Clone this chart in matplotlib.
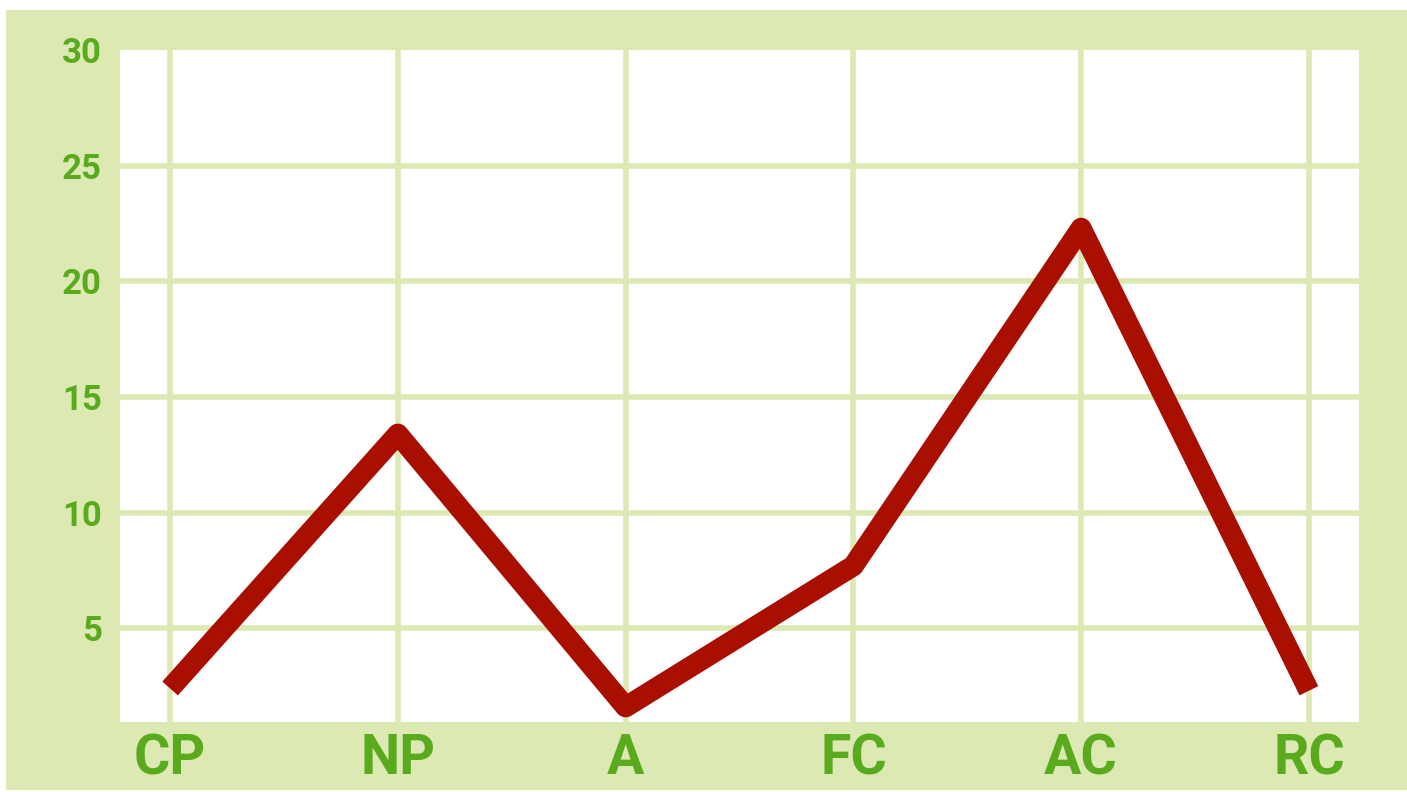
import matplotlib
matplotlib.use("Agg")
import matplotlib.pyplot as plt
from matplotlib.patches import Rectangle

categories = ["CP", "NP", "A", "FC", "AC", "RC"]
values = [2.4, 13.4, 1.6, 7.7, 22.3, 2.3]
y_ticks = [5, 10, 15, 20, 25, 30]

bg_green = "#dce9b3"
grid_green = "#dce9b3"
text_green = "#5aaa1e"
line_red = "#a80f00"

W, H = 1407, 792
fig = plt.figure(figsize=(W / 100, H / 100), dpi=100)
fig.patch.set_facecolor("white")
fig.patches.append(Rectangle((6 / W, 2 / H), 1 - 6 / W, 1 - 12 / H,
                             transform=fig.transFigure, facecolor=bg_green,
                             edgecolor="none", zorder=-10))

ax = fig.add_axes([120 / W, 1 - 722 / H, (1359 - 120) / W, (722 - 50) / H])
ax.set_facecolor("white")
x = list(range(len(categories)))
ax.plot(x, values, color=line_red, linewidth=15, solid_capstyle="butt",
        solid_joinstyle="round", zorder=3)

ax.set_xlim(-0.22, len(categories) - 1 + 0.22)
ax.set_ylim(0.95, 30)
ax.set_xticks(x)
ax.set_xticklabels(categories)
ax.set_yticks(y_ticks)
ax.set_yticklabels([str(v) for v in y_ticks])

ax.grid(True, color=grid_green, linewidth=4, zorder=1)
ax.set_axisbelow(True)
gl = ax.yaxis.get_gridlines()
gl[-1].set_visible(False)

for s in ax.spines.values():
    s.set_visible(False)
ax.tick_params(length=0)
ax.tick_params(axis="y", pad=13, labelsize=25, labelcolor=text_green)
ax.tick_params(axis="x", pad=8, labelsize=40, labelcolor=text_green)
for t in ax.get_yticklabels():
    t.set_fontfamily("Roboto")
    t.set_fontweight("bold")
for t in ax.get_xticklabels():
    t.set_fontfamily("Roboto")
    t.set_fontweight("bold")

fig.savefig("out.png", dpi=100)
